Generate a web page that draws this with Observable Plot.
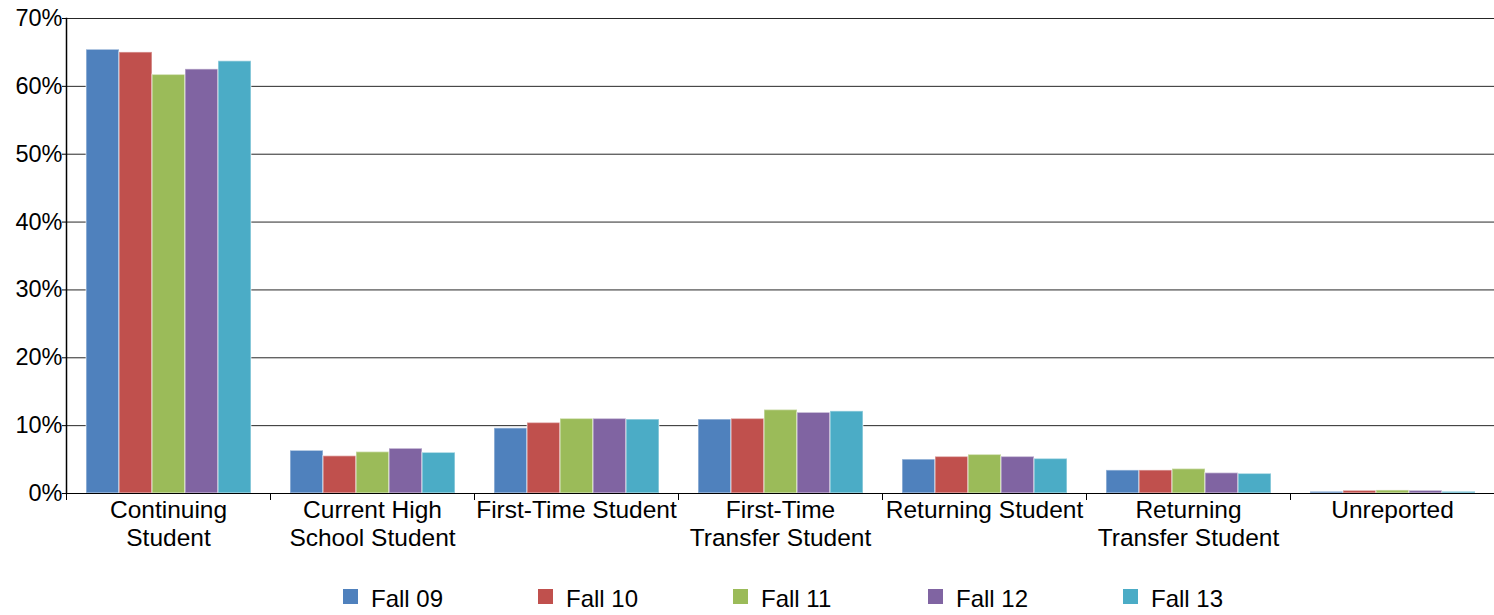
<!DOCTYPE html>
<html>
<head>
<meta charset="utf-8">
<script src="https://cdn.jsdelivr.net/npm/d3@7"></script>
<script src="https://cdn.jsdelivr.net/npm/@observablehq/plot@0.6"></script>
<style>
  html, body { margin: 0; padding: 0; background: #fff; }
  body { width: 1494px; height: 615px; overflow: hidden; font-family: "Liberation Sans", Arial, sans-serif; }
  #legend { position: relative; height: 60px; }
  .item { position: absolute; top: 33px; display: flex; align-items: center; font-size: 24px; color: #000; height: 22px; }
  .sw { width: 15px; height: 15px; margin-right: 13px; margin-top: -6px; }
</style>
</head>
<body>
<div id="chart"></div>
<div id="legend"></div>
<script>
const categories = ["Continuing Student", "Current High School Student", "First-Time Student", "First-Time Transfer Student", "Returning Student", "Returning Transfer Student", "Unreported"];
const categoryLabels = ["Continuing\nStudent", "Current High\nSchool Student", "First-Time Student", "First-Time\nTransfer Student", "Returning Student", "Returning\nTransfer Student", "Unreported"];
const seriesNames = ["Fall 09", "Fall 10", "Fall 11", "Fall 12", "Fall 13"];
const fall09 = [65.4, 6.3, 9.6, 10.9, 5.0, 3.4, 0.25];
const fall10 = [65.0, 5.5, 10.4, 11.0, 5.4, 3.4, 0.4];
const fall11 = [61.7, 6.1, 11.0, 12.3, 5.7, 3.6, 0.45];
const fall12 = [62.5, 6.6, 11.0, 11.9, 5.4, 3.0, 0.4];
const fall13 = [63.7, 6.0, 10.9, 12.1, 5.1, 2.9, 0.25];
const colors = ["#4F81BD", "#C0504D", "#9BBB59", "#8064A2", "#4BACC6"];
const yTicks = [0, 10, 20, 30, 40, 50, 60, 70];

const seriesValues = [fall09, fall10, fall11, fall12, fall13];
const data = [];
categories.forEach((c, i) => {
  seriesNames.forEach((s, j) => {
    data.push({category: c, series: s, value: seriesValues[j][i]});
  });
});

const chart = Plot.plot({
  width: 1494,
  height: 555,
  marginTop: 18,
  marginBottom: 62,
  marginLeft: 66,
  marginRight: 0,
  style: {fontFamily: "'Liberation Sans', Arial, sans-serif", color: "#000", background: "#fff"},
  fx: {domain: categories, padding: 0},
  x: {domain: seriesNames, paddingInner: 0, paddingOuter: 0.59, axis: null},
  y: {domain: [0, 70]},
  color: {domain: seriesNames, range: colors},
  marks: [
    Plot.ruleY(yTicks.slice(1), {y: d => d, stroke: "#000", strokeWidth: 1, strokeOpacity: 0.85}),
    Plot.barY(data, {fx: "category", x: "series", y: "value", fill: "series", stroke: "#fff", strokeOpacity: 0.45, strokeWidth: 1.5, inset: 0}),
    Plot.ruleY([0], {stroke: "#000", strokeWidth: 1}),
    Plot.frame({anchor: "left", insetTop: 475, insetBottom: -6, stroke: "#000"}),
    Plot.frame({anchor: "left", facetAnchor: "left", stroke: "#000", strokeWidth: 1.5}),
    Plot.axisY({ticks: yTicks, tickFormat: d => d + "%", tickSize: 4, tickPadding: 0, fontSize: 23.5, label: null, stroke: "#000"}),
    Plot.axisFx({anchor: "bottom", tickSize: 0, tickPadding: 4, fontSize: 24.5, lineHeight: 1.15, label: null,
      tickFormat: d => categoryLabels[categories.indexOf(d)]})
  ]
});
document.getElementById("chart").appendChild(chart);

const legend = document.getElementById("legend");
seriesNames.forEach((s, j) => {
  const item = document.createElement("div");
  item.className = "item";
  item.style.left = (343 + j * 195) + "px";
  const sw = document.createElement("div");
  sw.className = "sw";
  sw.style.background = colors[j];
  const label = document.createElement("span");
  label.textContent = s;
  item.appendChild(sw);
  item.appendChild(label);
  legend.appendChild(item);
});
</script>
</body>
</html>
